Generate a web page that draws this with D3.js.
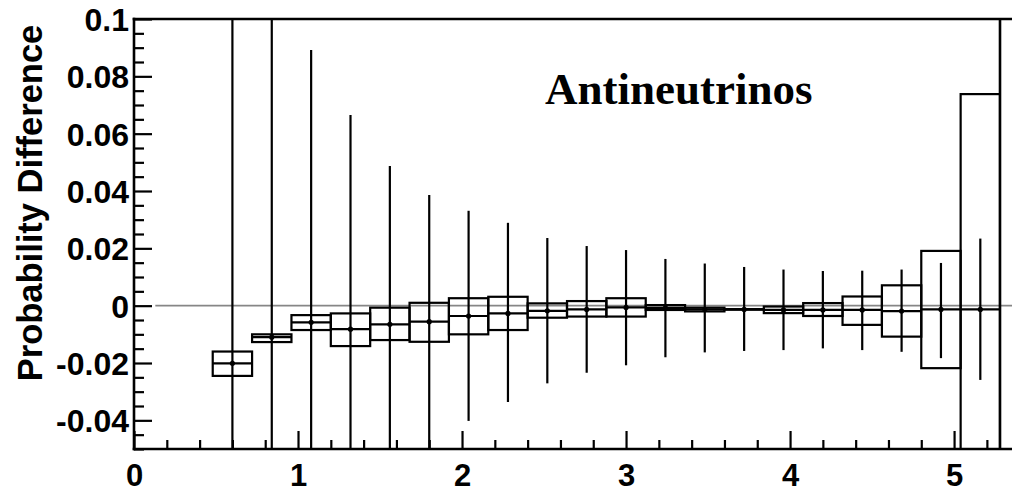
<!DOCTYPE html>
<html>
<head>
<meta charset="utf-8">
<script src="https://cdn.jsdelivr.net/npm/d3@7/dist/d3.min.js"></script>
<style>
  html, body { margin: 0; padding: 0; background: #fff; }
  svg { display: block; }
  .tick text { font-family: "Liberation Sans", Arial, Helvetica, sans-serif; font-weight: bold; }
</style>
</head>
<body>
<svg id="chart" width="1012" height="488"></svg>
<script>
// Bin centres (energy) and bin width
const binCenters = [0.60, 0.84, 1.08, 1.32, 1.56, 1.80, 2.04, 2.28, 2.52, 2.76,
                    3.00, 3.24, 3.48, 3.72, 3.96, 4.20, 4.44, 4.68, 4.92, 5.16];
const binWidth = 0.24;

// Central probability difference in each bin
const centralValue = [-0.0201, -0.0110, -0.0058, -0.0082, -0.0065, -0.0056, -0.0036, -0.0027, -0.0018, -0.0013,
                      -0.0006, -0.0008, -0.0013, -0.0013, -0.0015, -0.0015, -0.0015, -0.0019, -0.0013, -0.0013];

// Systematic band (box) lower / upper edges
const bandLow  = [-0.0245, -0.0127, -0.0085, -0.0141, -0.0120, -0.0126, -0.0100, -0.0085, -0.0042, -0.0038,
                  -0.0038, -0.0015, -0.0020, -0.0014, -0.0026, -0.0036, -0.0067, -0.0108, -0.0218, -0.0700];
const bandHigh = [-0.0160, -0.0100, -0.0033, -0.0027, -0.0007,  0.0010,  0.0026,  0.0031,  0.0008,  0.0016,
                   0.0026,  0.0002, -0.0007, -0.0012, -0.0003,  0.0009,  0.0032,  0.0071,  0.0191,  0.0738];

// Statistical error bar lower / upper ends
const errLow  = [-0.2000, -0.2000, -0.2000, -0.2000, -0.2000, -0.2000, -0.0402, -0.0336, -0.0271, -0.0234,
                 -0.0208, -0.0180, -0.0163, -0.0158, -0.0155, -0.0149, -0.0155, -0.0161, -0.0183, -0.0259];
const errHigh = [ 0.2000,  0.2000,  0.0892,  0.0665,  0.0487,  0.0386,  0.0331,  0.0289,  0.0236,  0.0208,
                  0.0194,  0.0163,  0.0147,  0.0135,  0.0126,  0.0121,  0.0122,  0.0126,  0.0149,  0.0234];

// Axes
const xDomain = [0, 5.28];
const yDomain = [-0.05, 0.1];
const xTickValues = [0, 1, 2, 3, 4, 5];
const xTickLabels = ["0", "1", "2", "3", "4", "5"];
const yTickValues = [-0.04, -0.02, 0, 0.02, 0.04, 0.06, 0.08, 0.1];
const yTickLabels = ["-0.04", "-0.02", "0", "0.02", "0.04", "0.06", "0.08", "0.1"];
const zeroLineStart = 0.13;

const yTitle = "Probability Difference";
const panelLabel = "Antineutrinos";

const bins = binCenters.map((c, i) => ({
  c, v: centralValue[i], lo: bandLow[i], hi: bandHigh[i], eLo: errLow[i], eHi: errHigh[i]
}));

const svg = d3.select("#chart");
const W = 1012, H = 488;
const frameL = 134, frameR = 1000, frameT = 19, frameB = 449;
const markWidth = 2.2;

const x = d3.scaleLinear().domain(xDomain).range([frameL, frameR]);
const y = d3.scaleLinear().domain(yDomain).range([frameB, frameT]);

svg.append("defs").append("clipPath").attr("id", "plotClip")
  .append("rect").attr("x", frameL).attr("y", frameT)
  .attr("width", frameR - frameL).attr("height", frameB - frameT);

// Zero reference line
svg.append("line")
  .attr("x1", x(zeroLineStart)).attr("x2", W)
  .attr("y1", y(0)).attr("y2", y(0))
  .attr("stroke", "#868686").attr("stroke-width", 1.8);

const plot = svg.append("g").attr("clip-path", "url(#plotClip)");

// Error bars
plot.selectAll("line.err").data(bins).join("line")
  .attr("class", "err")
  .attr("x1", d => x(d.c)).attr("x2", d => x(d.c))
  .attr("y1", d => y(d.eHi)).attr("y2", d => y(d.eLo))
  .attr("stroke", "#000").attr("stroke-width", markWidth);

// Band boxes
plot.selectAll("rect.band").data(bins).join("rect")
  .attr("class", "band")
  .attr("x", d => x(d.c - binWidth / 2))
  .attr("width", d => x(d.c + binWidth / 2) - x(d.c - binWidth / 2))
  .attr("y", d => y(d.hi))
  .attr("height", d => Math.max(0, y(d.lo) - y(d.hi)))
  .attr("fill", "none").attr("stroke", "#000").attr("stroke-width", markWidth);

// Central value line across each bin
plot.selectAll("line.mid").data(bins).join("line")
  .attr("class", "mid")
  .attr("x1", d => x(d.c - binWidth / 2)).attr("x2", d => x(d.c + binWidth / 2))
  .attr("y1", d => y(d.v)).attr("y2", d => y(d.v))
  .attr("stroke", "#000").attr("stroke-width", markWidth);

// Central points
plot.selectAll("circle.pt").data(bins).join("circle")
  .attr("class", "pt")
  .attr("cx", d => x(d.c)).attr("cy", d => y(d.v))
  .attr("r", 2.6).attr("fill", "#000");

// Minor ticks
const yMinor = d3.range(-0.05, 0.1001, 0.005).filter(v => !yTickValues.some(t => Math.abs(t - v) < 1e-6));
const xMinor = d3.range(0, 5.281, 0.2).filter(v => !xTickValues.some(t => Math.abs(t - v) < 1e-6));

svg.append("g").attr("transform", `translate(${frameL},0)`)
  .call(d3.axisLeft(y).tickValues(yMinor).tickSize(-10).tickFormat(""))
  .call(g => g.select(".domain").remove())
  .call(g => g.selectAll("line").attr("stroke", "#000").attr("stroke-width", markWidth));

svg.append("g").attr("transform", `translate(0,${frameB})`)
  .call(d3.axisBottom(x).tickValues(xMinor).tickSize(-9).tickFormat(""))
  .call(g => g.select(".domain").remove())
  .call(g => g.selectAll("line").attr("stroke", "#000").attr("stroke-width", markWidth));

// Major ticks with labels
svg.append("g").attr("transform", `translate(${frameL},0)`)
  .call(d3.axisLeft(y).tickValues(yTickValues).tickSize(-18).tickPadding(5)
    .tickFormat((d, i) => yTickLabels[i]))
  .call(g => g.select(".domain").remove())
  .call(g => g.selectAll("line").attr("stroke", "#000").attr("stroke-width", markWidth))
  .call(g => g.selectAll("text").attr("font-size", 32).attr("fill", "#000")
    .attr("dy", "0.36em"));

svg.append("g").attr("transform", `translate(0,${frameB})`)
  .call(d3.axisBottom(x).tickValues(xTickValues).tickSize(-18).tickPadding(6)
    .tickFormat((d, i) => xTickLabels[i]))
  .call(g => g.select(".domain").remove())
  .call(g => g.selectAll("line").attr("stroke", "#000").attr("stroke-width", markWidth))
  .call(g => g.selectAll("text").attr("font-size", 31).attr("fill", "#000")
    .attr("y", H - frameB - 2).attr("dy", 0));

// Frame
const frame = svg.append("g").attr("stroke", "#000").attr("stroke-width", 2.6).attr("fill", "none");
frame.append("line").attr("x1", frameL).attr("x2", frameL).attr("y1", frameT - 1.3).attr("y2", frameB + 1.3);
frame.append("line").attr("x1", frameR).attr("x2", frameR).attr("y1", frameT).attr("y2", frameB);
frame.append("line").attr("x1", frameL - 1.3).attr("x2", W).attr("y1", frameT).attr("y2", frameT);
frame.append("line").attr("x1", frameL - 1.3).attr("x2", W).attr("y1", frameB).attr("y2", frameB);

// Y axis title
svg.append("text")
  .attr("transform", `translate(42,${(frameT + frameB) / 2 - 31}) rotate(-90)`)
  .attr("text-anchor", "middle")
  .attr("font-family", "'Liberation Sans', Arial, Helvetica, sans-serif")
  .attr("font-weight", "bold").attr("font-size", 34.5)
  .text(yTitle);

// Panel label
svg.append("text")
  .attr("x", 545).attr("y", 104)
  .attr("font-family", "'Liberation Serif', 'Times New Roman', serif")
  .attr("font-weight", "bold").attr("font-size", 45)
  .text(panelLabel);
</script>
</body>
</html>
